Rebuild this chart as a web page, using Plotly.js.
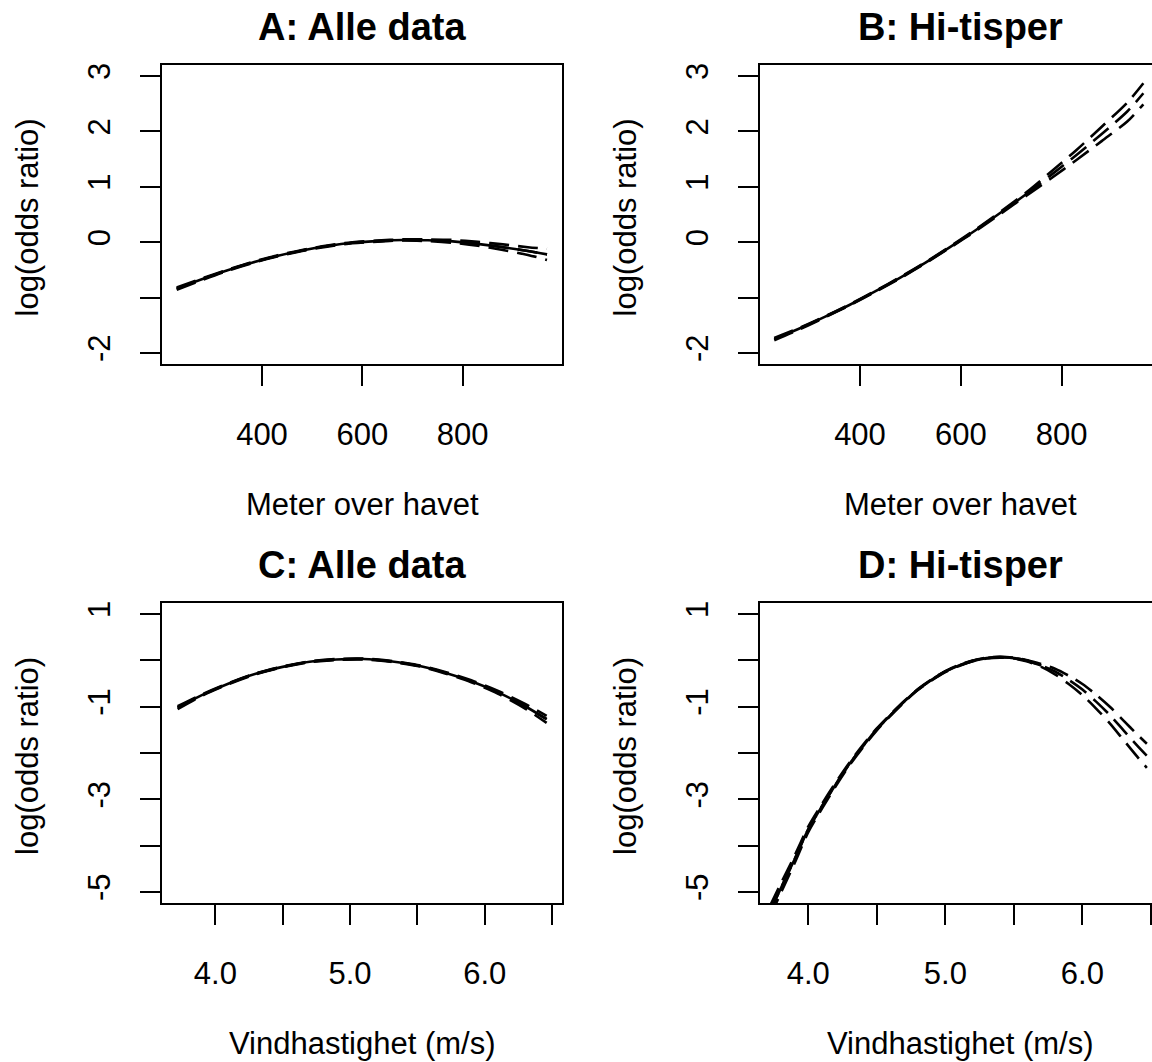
<!DOCTYPE html>
<html>
<head>
<meta charset="utf-8">
<script src="https://cdn.plot.ly/plotly-3.0.1.min.js"></script>
<style>
  html, body { margin: 0; padding: 0; overflow: hidden; background: #fff; }
  #chart { width: 1170px; height: 1062px; }
</style>
</head>
<body>
<div id="chart"></div>
<script>
// ---- A: altitude effect, all data ----
const altAllX   = [230, 280, 330, 380, 430, 480, 530, 580, 630, 680, 730, 780, 830, 880, 930, 968];
const altAllFit = [-0.84, -0.67, -0.51, -0.37, -0.25, -0.15, -0.07, -0.01, 0.02, 0.04, 0.035, 0.015, -0.03, -0.09, -0.16, -0.22];
const altAllHi  = [-0.82, -0.655, -0.50, -0.36, -0.24, -0.14, -0.06, 0.00, 0.03, 0.05, 0.05, 0.04, 0.005, -0.04, -0.09, -0.12];
const altAllLo  = [-0.86, -0.685, -0.52, -0.38, -0.26, -0.16, -0.08, -0.02, 0.01, 0.03, 0.02, -0.01, -0.065, -0.14, -0.23, -0.32];

// ---- B: altitude effect, Hi-tisper ----
const altHiX   = [230, 280, 330, 380, 430, 480, 530, 580, 630, 680, 730, 780, 830, 880, 930, 962];
const altHiFit = [-1.75, -1.56, -1.35, -1.13, -0.89, -0.64, -0.37, -0.08, 0.22, 0.54, 0.87, 1.22, 1.58, 1.96, 2.36, 2.69];
const altHiHi  = [-1.73, -1.545, -1.34, -1.12, -0.88, -0.63, -0.36, -0.07, 0.235, 0.56, 0.90, 1.28, 1.67, 2.09, 2.52, 2.87];
const altHiLo  = [-1.77, -1.575, -1.36, -1.14, -0.90, -0.65, -0.38, -0.09, 0.205, 0.52, 0.84, 1.16, 1.49, 1.83, 2.18, 2.49];

// ---- C: wind speed effect, all data ----
const windAllX   = [3.72, 3.9, 4.1, 4.3, 4.5, 4.7, 4.9, 5.1, 5.3, 5.5, 5.7, 5.9, 6.1, 6.3, 6.46];
const windAllFit = [-1.02, -0.75, -0.50, -0.29, -0.14, -0.03, 0.02, 0.03, -0.02, -0.11, -0.26, -0.45, -0.69, -0.99, -1.27];
const windAllHi  = [-0.99, -0.735, -0.49, -0.28, -0.13, -0.02, 0.03, 0.04, -0.01, -0.10, -0.245, -0.43, -0.66, -0.94, -1.20];
const windAllLo  = [-1.05, -0.765, -0.51, -0.30, -0.15, -0.04, 0.01, 0.02, -0.03, -0.12, -0.275, -0.47, -0.72, -1.04, -1.35];

// ---- D: wind speed effect, Hi-tisper ----
const windHiX   = [3.72, 3.8, 3.9, 4.0, 4.1, 4.2, 4.3, 4.4, 4.5, 4.6, 4.7, 4.8, 4.9, 5.0, 5.1, 5.2, 5.3, 5.4, 5.5, 5.6, 5.7, 5.8, 5.9, 6.0, 6.1, 6.2, 6.3, 6.4, 6.47];
const windHiFit = [-5.43, -4.92, -4.30, -3.65, -3.15, -2.68, -2.24, -1.85, -1.49, -1.18, -0.89, -0.63, -0.42, -0.24, -0.11, -0.01, 0.05, 0.07, 0.05, -0.01, -0.11, -0.24, -0.42, -0.63, -0.89, -1.18, -1.51, -1.84, -2.06];
const windHiHi  = [-5.31, -4.82, -4.22, -3.59, -3.10, -2.64, -2.21, -1.825, -1.47, -1.165, -0.878, -0.62, -0.41, -0.23, -0.10, 0.00, 0.06, 0.08, 0.06, 0.005, -0.08, -0.18, -0.33, -0.51, -0.74, -1.00, -1.30, -1.60, -1.80];
const windHiLo  = [-5.55, -5.02, -4.38, -3.71, -3.20, -2.72, -2.27, -1.875, -1.51, -1.195, -0.902, -0.64, -0.43, -0.25, -0.12, -0.02, 0.04, 0.06, 0.04, -0.025, -0.14, -0.30, -0.51, -0.75, -1.04, -1.36, -1.72, -2.08, -2.32];

// ---- tick labels ----
const altTickVals   = [400, 600, 800];
const altTickText   = ['400', '600', '800'];
const windTickVals  = [4.0, 4.5, 5.0, 5.5, 6.0, 6.5];
const windTickText  = ['4.0', '', '5.0', '', '6.0', ''];
const lorTopVals    = [-2, -1, 0, 1, 2, 3];
const lorTopText    = ['-2', '', '0', '1', '2', '3'];
const lorBottomVals = [-5, -4, -3, -2, -1, 0, 1];
const lorBottomText = ['-5', '', '-3', '', '-1', '', '1'];

const panelTitles = ['A: Alle data', 'B: Hi-tisper', 'C: Alle data', 'D: Hi-tisper'];
const xTitles = ['Meter over havet', 'Meter over havet', 'Vindhastighet (m/s)', 'Vindhastighet (m/s)'];
const yTitle = 'log(odds ratio)';

// ---- drawing ----
const W = 1170, H = 1062;
const FONT = 'Liberation Sans, Arial, Helvetica, sans-serif';
const ink = '#000';

const panels = [
  { x: altAllX,  fit: altAllFit,  hi: altAllHi,  lo: altAllLo,  solidTo: 1000, ax: '',  box: [162, 562, 65, 364],  xr: [200.7, 997.9], yr: [-2.2, 3.2],  xt: [altTickVals, altTickText],  yt: [lorTopVals, lorTopText] },
  { x: altHiX,   fit: altHiFit,   hi: altHiHi,   lo: altHiLo,   solidTo: 740,  ax: '2', box: [760, 1160, 65, 364], xr: [201.7, 995.0], yr: [-2.2, 3.2],  xt: [altTickVals, altTickText],  yt: [lorTopVals, lorTopText] },
  { x: windAllX, fit: windAllFit, hi: windAllHi, lo: windAllLo, solidTo: 7,    ax: '3', box: [162, 562, 603, 903], xr: [3.604, 6.574], yr: [-5.24, 1.24], xt: [windTickVals, windTickText], yt: [lorBottomVals, lorBottomText] },
  { x: windHiX,  fit: windHiFit,  hi: windHiHi,  lo: windHiLo,  solidTo: 5.7,  ax: '4', box: [760, 1160, 603, 903], xr: [3.648, 6.566], yr: [-5.24, 1.24], xt: [windTickVals, windTickText], yt: [lorBottomVals, lorBottomText] }
];

const traces = [];
const layout = {
  width: W, height: H,
  margin: { l: 0, r: 0, t: 0, b: 0 },
  paper_bgcolor: '#fff', plot_bgcolor: '#fff',
  showlegend: false,
  font: { family: FONT, color: ink, size: 31 },
  annotations: []
};

const dashed = { color: ink, width: 2.6, dash: '20px,9px', shape: 'spline', smoothing: 0.8 };
const solid  = { color: ink, width: 2.6, shape: 'spline', smoothing: 0.8 };

panels.forEach((p, i) => {
  const xa = 'x' + p.ax, ya = 'y' + p.ax;
  [p.hi, p.lo, p.fit].forEach(ys => {
    traces.push({ type: 'scatter', mode: 'lines', x: p.x, y: ys, xaxis: xa, yaxis: ya, line: dashed, hoverinfo: 'skip' });
  });
  const sx = [], sy = [];
  p.x.forEach((v, k) => { if (v <= p.solidTo) { sx.push(v); sy.push(p.fit[k]); } });
  traces.push({ type: 'scatter', mode: 'lines', x: sx, y: sy, xaxis: xa, yaxis: ya, line: solid, hoverinfo: 'skip' });

  const [l, r, t, b] = p.box;
  const common = {
    showline: true, mirror: true, linecolor: ink, linewidth: 2,
    ticks: 'outside', ticklen: 20, tickwidth: 2, tickcolor: ink,
    showgrid: false, zeroline: false, fixedrange: true,
    tickfont: { family: FONT, size: 31, color: ink },
    tickmode: 'array'
  };
  layout['xaxis' + p.ax] = Object.assign({}, common, {
    domain: [l / W, r / W], range: p.xr, anchor: ya,
    tickvals: p.xt[0], ticktext: p.xt[1], ticklabelstandoff: 22
  });
  layout['yaxis' + p.ax] = Object.assign({}, common, {
    domain: [(H - b) / H, (H - t) / H], range: p.yr, anchor: xa,
    tickvals: p.yt[0], ticktext: p.yt[1], tickangle: -90, ticklabelstandoff: 18
  });

  const cx = (l + r) / 2;
  layout.annotations.push({
    text: panelTitles[i], xref: 'paper', yref: 'paper', x: cx / W, y: 1 - (t - 38) / H,
    xanchor: 'center', yanchor: 'middle', showarrow: false,
    font: { family: FONT, size: 38, color: ink, weight: 'bold' }
  });
  layout.annotations.push({
    text: xTitles[i], xref: 'paper', yref: 'paper', x: cx / W, y: 1 - (b + 140) / H,
    xanchor: 'center', yanchor: 'middle', showarrow: false,
    font: { family: FONT, size: 31, color: ink }
  });
  layout.annotations.push({
    text: yTitle, xref: 'paper', yref: 'paper', x: (l - 135) / W, y: 1 - ((t + b) / 2 + 3) / H,
    xanchor: 'center', yanchor: 'middle', textangle: -90, showarrow: false,
    font: { family: FONT, size: 31, color: ink }
  });
});

Plotly.newPlot('chart', traces, layout, { staticPlot: true, displayModeBar: false });
</script>
</body>
</html>
